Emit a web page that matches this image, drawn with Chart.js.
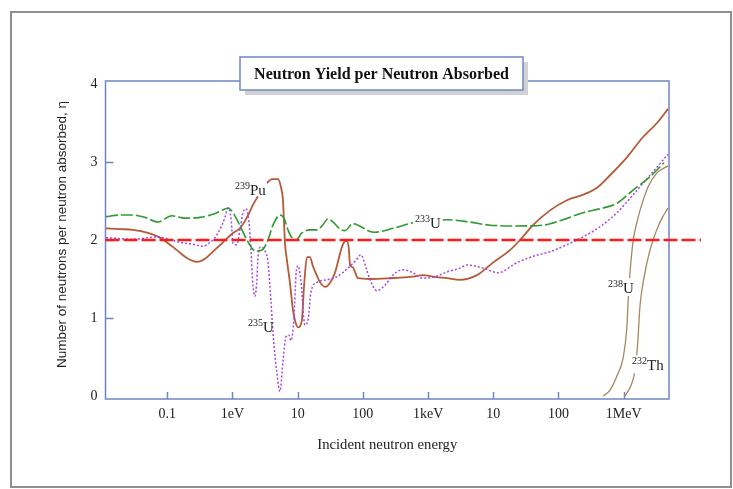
<!DOCTYPE html>
<html>
<head>
<meta charset="utf-8">
<title>Neutron Yield per Neutron Absorbed</title>
<script src="https://cdn.jsdelivr.net/npm/chart.js@4.4.0/dist/chart.umd.min.js"></script>
<style>
  html, body { margin: 0; padding: 0; background: #fff; }
</style>
</head>
<body>
<canvas id="etaChart" width="733" height="489"></canvas>
<script>
// incident neutron energy in eV, eta = neutrons released per neutron absorbed
const energyTicks = [0.1, 1, 10, 100, 1e3, 1e4, 1e5, 1e6];
const energyTickLabels = ['0.1', '1eV', '10', '100', '1keV', '10', '100', '1MeV'];
const etaTicks = [0, 1, 2, 3, 4];

const u233E = [0.0115, 0.0188, 0.0298, 0.0455, 0.072, 0.118, 0.187, 0.318, 0.502, 0.69, 0.853, 1.02, 1.17, 1.40, 1.67, 2.06, 2.46, 2.94, 3.50, 4.18, 5.35, 6.16, 7.10, 8.18, 9.42, 11.6, 15.4, 19.8, 23.6, 29.1, 36.0, 44.5, 53.1, 70.5, 93.5, 120, 153, 290, 586, 962, 1950, 4390, 8890, 23100, 57800, 117000, 238000, 482000, 789000, 1.39e6, 2.53e6, 4.15e6];
const u233Eta = [2.30, 2.32, 2.32, 2.29, 2.23, 2.31, 2.28, 2.29, 2.33, 2.38, 2.41, 2.35, 2.26, 2.13, 2.00, 1.88, 1.86, 1.88, 2.00, 2.19, 2.32, 2.28, 2.13, 2.03, 2.00, 2.09, 2.13, 2.13, 2.18, 2.27, 2.22, 2.14, 2.12, 2.21, 2.17, 2.12, 2.10, 2.15, 2.22, 2.24, 2.26, 2.23, 2.19, 2.18, 2.19, 2.26, 2.35, 2.41, 2.47, 2.64, 2.81, 2.99];

const pu239E = [0.0115, 0.0188, 0.0298, 0.0506, 0.0773, 0.110, 0.141, 0.200, 0.286, 0.379, 0.502, 0.715, 1.02, 1.30, 1.67, 2.06, 2.46, 2.9, 3.38, 4.03, 4.99, 5.54, 5.95, 6.39, 6.85, 7.62, 8.47, 9.09, 10.1, 11.6, 12.5, 13.9, 15.4, 17.2, 19.8, 22.0, 26.2, 31.3, 37.3, 41.5, 46.1, 51.3, 57.0, 61.2, 63.4, 70.5, 75.6, 84.1, 129, 260, 586, 835, 1190, 1950, 3090, 5620, 9890, 18000, 25700, 40600, 74100, 135000, 238000, 389000, 617000, 1.12e6, 1.98e6, 3.24e6, 4.78e6];
const pu239Eta = [2.15, 2.14, 2.13, 2.09, 2.03, 1.94, 1.87, 1.77, 1.72, 1.76, 1.85, 1.97, 2.09, 2.15, 2.29, 2.45, 2.56, null, 2.73, 2.78, 2.78, 2.68, 2.51, 1.96, 1.74, 1.45, 1.10, 0.97, 0.88, 0.97, 1.40, 1.78, 1.78, 1.66, 1.54, 1.46, 1.40, 1.45, 1.58, 1.72, 1.87, 1.97, 1.99, 1.87, 1.68, 1.65, 1.59, 1.51, 1.50, 1.51, 1.53, 1.55, 1.53, 1.51, 1.49, 1.55, 1.71, 1.87, 2.00, 2.19, 2.38, 2.51, 2.58, 2.67, 2.83, 3.06, 3.32, 3.50, 3.68];

const u235E = [0.0115, 0.0298, 0.0695, 0.157, 0.266, 0.353, 0.452, 0.54, 0.600, 0.69, 0.767, 0.853, 0.95, 1.02, 1.17, 1.30, 1.45, 1.61, 1.79, 1.92, 2.06, 2.21, 2.37, 2.46, 2.74, 3.15, 3.50, 3.89, 4.18, 4.81, 5.35, 5.95, 6.62, 7.36, 7.89, 8.77, 9.42, 10.1, 11.2, 12.9, 14.4, 16.0, 19.8, 28.1, 40.1, 59.1, 78.3, 93.5, 112, 129, 165, 218, 290, 412, 586, 835, 1280, 1950, 3090, 3950, 6950, 11800, 23100, 40600, 74100, 135000, 238000, 433000, 789000, 1.39e6, 2.53e6, 4.78e6];
const u235Eta = [2.03, 2.01, 2.04, 1.97, 1.94, 1.92, 1.97, 2.03, 2.09, 2.19, 2.29, 2.41, 2.28, 1.96, 1.94, 2.13, 2.35, 2.40, 2.23, 1.87, 1.42, 1.28, 1.49, 1.78, 1.91, 1.86, 1.72, 1.23, 0.81, 0.29, 0.06, 0.44, 0.76, 0.78, 0.71, 1.00, 1.55, 1.67, 1.49, 0.91, 0.97, 1.33, 1.46, 1.49, 1.53, 1.64, 1.74, 1.81, 1.64, 1.49, 1.35, 1.42, 1.55, 1.62, 1.58, 1.51, 1.53, 1.59, 1.64, 1.68, 1.64, 1.58, 1.71, 1.79, 1.85, 1.94, 2.04, 2.17, 2.35, 2.58, 2.83, 3.10];

const u238E = [487000, 620000, 781000, 986000, 1.11e6, 1.18e6, 1.25e6, 1.40e6, 1.60e6, 1.78e6, 2.36e6, 3.24e6, 4.78e6];
const u238Eta = [0, 0.08, 0.25, 0.50, 0.85, 1.27, 1.58, 2.00, 2.23, 2.38, 2.68, 2.86, 2.95];

const th232E = [1.05e6, 1.33e6, 1.49e6, 1.62e6, 1.78e6, 2.05e6, 2.53e6, 3.21e6, 3.87e6, 4.78e6];
const th232Eta = [0, 0.16, 0.33, 0.62, 1.16, 1.52, 1.87, 2.13, 2.28, 2.41];

// break-even line eta = 2, runs a little past the right edge of the plot
const breakEvenE = [0.0113, 1.53e7];
const breakEvenEta = [2, 2];

const chartTitle = 'Neutron Yield per Neutron Absorbed';
const yTitle = 'Number of neutrons per neutron absorbed, η';

// curve labels: mass number, symbol, anchor (energy, eta) at left/baseline
const isoLabels = [
  { mass: '239', sym: 'Pu', e: 1.09, eta: 2.58, knock: false },
  { mass: '235', sym: 'U', e: 1.73, eta: 0.82, knock: false },
  { mass: '233', sym: 'U', e: 630, eta: 2.15, knock: true },
  { mass: '238', sym: 'U', e: 574000, eta: 1.32, knock: true },
  { mass: '232', sym: 'Th', e: 1.34e6, eta: 0.33, knock: true }
];

const frameColor = '#7086c4';
const serif = '"Liberation Serif", "Times New Roman", serif';
const sans = '"Liberation Sans", Arial, sans-serif';

function pts(xs, ys) {
  return xs.map((x, i) => ({ x: x, y: ys[i] }));
}

const decor = {
  id: 'decor',
  beforeDraw(chart) {
    const ctx = chart.ctx;
    ctx.save();
    ctx.fillStyle = '#fff';
    ctx.fillRect(0, 0, chart.width, chart.height);
    ctx.strokeStyle = '#8f8f8f';
    ctx.lineWidth = 2;
    ctx.strokeRect(11, 12, 720, 475);

    // vertical axis title
    ctx.translate(62, 234.5);
    ctx.rotate(-Math.PI / 2);
    ctx.fillStyle = '#222';
    ctx.font = '13.5px ' + sans;
    ctx.textAlign = 'center';
    ctx.textBaseline = 'middle';
    ctx.fillText(yTitle, 0, 0);
    ctx.restore();
  },
  beforeDatasetsDraw(chart) {
    const { ctx, chartArea: a, scales } = chart;
    ctx.save();
    ctx.strokeStyle = frameColor;
    ctx.lineWidth = 1.5;
    ctx.strokeRect(a.left, a.top, a.right - a.left, a.bottom - a.top);
    // short inward tick marks
    ctx.beginPath();
    energyTicks.forEach(v => {
      const px = Math.round(scales.x.getPixelForValue(v)) + 0.5;
      ctx.moveTo(px, a.bottom);
      ctx.lineTo(px, a.bottom - 7);
    });
    [1, 2, 3].forEach(v => {
      const py = Math.round(scales.y.getPixelForValue(v)) + 0.5;
      ctx.moveTo(a.left, py);
      ctx.lineTo(a.left + 8, py);
    });
    ctx.stroke();
    ctx.restore();
  },
  afterDatasetsDraw(chart) {
    const { ctx, scales } = chart;
    ctx.save();
    ctx.textBaseline = 'alphabetic';
    ctx.textAlign = 'left';
    isoLabels.forEach(l => {
      const x = scales.x.getPixelForValue(l.e);
      const y = scales.y.getPixelForValue(l.eta);
      ctx.font = '10px ' + serif;
      const w1 = ctx.measureText(l.mass).width;
      ctx.font = '15px ' + serif;
      const w2 = ctx.measureText(l.sym).width;
      if (l.knock) {
        ctx.fillStyle = '#fff';
        ctx.fillRect(x - 2, y - 15, w1 + w2 + 4, 18);
      }
      ctx.fillStyle = '#222';
      ctx.font = '10px ' + serif;
      ctx.fillText(l.mass, x, y - 6);
      ctx.font = '15px ' + serif;
      ctx.fillText(l.sym, x + w1, y);
    });

    // title box with drop shadow
    const bx = 240, by = 57, bw = 283, bh = 33;
    ctx.fillStyle = '#d2d2d2';
    ctx.fillRect(bx + 5, by + 5, bw, bh);
    ctx.fillStyle = '#fff';
    ctx.fillRect(bx, by, bw, bh);
    ctx.strokeStyle = frameColor;
    ctx.lineWidth = 1.5;
    ctx.strokeRect(bx, by, bw, bh);
    ctx.fillStyle = '#111';
    ctx.font = 'bold 16px ' + serif;
    ctx.textAlign = 'center';
    ctx.textBaseline = 'middle';
    ctx.fillText(chartTitle, bx + bw / 2, by + bh / 2 + 1);
    ctx.restore();
  }
};

new Chart(document.getElementById('etaChart'), {
  type: 'scatter',
  data: {
    datasets: [
      {
        label: 'eta = 2',
        data: pts(breakEvenE, breakEvenEta),
        borderColor: '#ff1a1a',
        borderWidth: 2.6,
        borderDash: [14, 4],
        clip: false
      },
      {
        label: 'U-233',
        data: pts(u233E, u233Eta),
        borderColor: '#2f9a2f',
        borderWidth: 1.6,
        borderDash: [12, 3]
      },
      {
        label: 'U-235',
        data: pts(u235E, u235Eta),
        borderColor: '#a645e6',
        borderWidth: 1.5,
        borderDash: [2, 2]
      },
      {
        label: 'Pu-239',
        data: pts(pu239E, pu239Eta),
        borderColor: '#b45a36',
        borderWidth: 1.8
      },
      {
        label: 'U-238',
        data: pts(u238E, u238Eta),
        borderColor: '#a68660',
        borderWidth: 1.3
      },
      {
        label: 'Th-232',
        data: pts(th232E, th232Eta),
        borderColor: '#a68660',
        borderWidth: 1.3
      }
    ]
  },
  options: {
    responsive: false,
    animation: false,
    showLine: true,
    spanGaps: false,
    layout: { padding: { left: 54, right: 64, top: 81, bottom: 30 } },
    elements: {
      point: { radius: 0, hoverRadius: 0 },
      line: { cubicInterpolationMode: 'monotone', fill: false }
    },
    plugins: {
      legend: { display: false },
      tooltip: { enabled: false }
    },
    scales: {
      x: {
        type: 'logarithmic',
        min: 0.0113,
        max: 4.95e6,
        afterBuildTicks: s => { s.ticks = energyTicks.map(v => ({ value: v })); },
        afterFit: s => { s.height = 60; },
        grid: { display: false, drawTicks: false },
        border: { display: false },
        ticks: {
          autoSkip: false,
          maxRotation: 0,
          padding: 7,
          color: '#222',
          font: { family: serif, size: 14 },
          callback: (v, i) => energyTickLabels[i]
        },
        title: {
          display: true,
          text: 'Incident neutron energy',
          color: '#222',
          font: { family: serif, size: 14.7 },
          padding: { top: 0, bottom: 5 }
        }
      },
      y: {
        min: -0.038,
        max: 4.038,
        afterBuildTicks: s => { s.ticks = etaTicks.map(v => ({ value: v })); },
        afterFit: s => { s.width = 51.5; },
        grid: { display: false, drawTicks: false },
        border: { display: false },
        ticks: {
          padding: 8,
          color: '#222',
          font: { family: serif, size: 14 },
          callback: v => String(v)
        }
      }
    }
  },
  plugins: [decor]
});
</script>
</body>
</html>
